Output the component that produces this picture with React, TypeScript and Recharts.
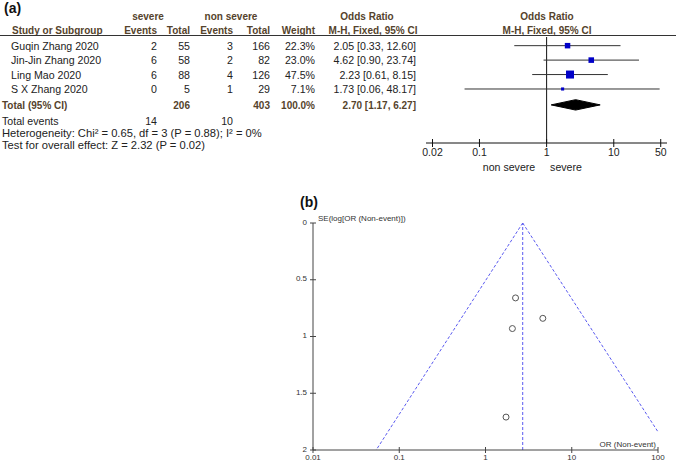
import React from "react";
import {
  ComposedChart,
  XAxis,
  YAxis,
  Scatter,
  Area,
  ReferenceLine,
} from "recharts";

// forest plot table (a)
const studies = ["Guqin Zhang 2020", "Jin-Jin Zhang 2020", "Ling Mao 2020", "S X Zhang 2020"];
const severeEvents = [2, 6, 6, 0];
const severeTotal = [55, 58, 88, 5];
const nonSevereEvents = [3, 2, 4, 1];
const nonSevereTotal = [166, 82, 126, 29];
const weights = [22.3, 23.0, 47.5, 7.1];
const oddsRatios = [2.05, 4.62, 2.23, 1.73];
const ciLow = [0.33, 0.9, 0.61, 0.06];
const ciHigh = [12.6, 23.74, 8.15, 48.17];

// pooled: OR, lower, upper
const pooledEstimate = [2.7, 1.17, 6.27];
const pooledTotals = [206, 403];
const totalEvents = [14, 10];

const forestTicks = [0.02, 0.1, 1, 10, 50];

// funnel plot (b)
const standardErrors = [0.93, 0.84, 0.66, 1.71];
const funnelXTicks = [0.01, 0.1, 1, 10, 100];
const funnelYTicks = [0, 0.5, 1, 1.5, 2];
const funnelLeftEdge = [2.7, 0.054];
const funnelLeftSe = [0, 2];
const funnelRightEdge = [2.7, 100];
const funnelRightSe = [0, 1.84];

const FONT = "'Liberation Sans', Arial, sans-serif";
const HEAD = "#55432c";
const BODY = "#222";

// row index -> pixel centre, same mapping as the forest chart's y axis
const Y_DOMAIN: [number, number] = [0.4, 7.74];
const PLOT_TOP = 37;
const PLOT_BOTTOM = 143;
const rowY = (r: number) =>
  PLOT_TOP + ((r - Y_DOMAIN[0]) / (Y_DOMAIN[1] - Y_DOMAIN[0])) * (PLOT_BOTTOM - PLOT_TOP);
const TOTAL_ROW = 5.1;

const fmt = (v: number) => v.toFixed(2);

const ForestTick = (props: any) => {
  const { x, y, payload } = props;
  return (
    <g>
      <line x1={x} x2={x} y1={y - 4} y2={y + 4} stroke="#111" />
      <text x={x} y={y + 13} textAnchor="middle" fontSize={10.5} fill={BODY} fontFamily={FONT}>
        {payload.value}
      </text>
    </g>
  );
};

const FunnelXTick = (props: any) => {
  const { x, y, payload } = props;
  return (
    <g>
      <line x1={x} x2={x} y1={y - 3} y2={y + 3} stroke="#444" />
      <text x={x} y={y + 10} textAnchor="middle" fontSize={8} fill="#333" fontFamily={FONT}>
        {payload.value}
      </text>
    </g>
  );
};

const FunnelYTick = (props: any) => {
  const { x, y, payload } = props;
  return (
    <g>
      <line x1={x - 3} x2={x + 3} y1={y} y2={y} stroke="#444" />
      <text x={x - 6} y={y + 1.5} textAnchor="end" fontSize={8} fill="#333" fontFamily={FONT}>
        {payload.value}
      </text>
    </g>
  );
};

const WeightSquare = (props: any) => {
  const { cx, cy, payload } = props;
  const s = 8 * Math.sqrt(payload.w / 47.5);
  return <rect x={cx - s / 2} y={cy - s / 2} width={s} height={s} fill="#0000c8" />;
};

const OpenCircle = (props: any) => {
  const { cx, cy } = props;
  return <circle cx={cx} cy={cy} r={3} fill="none" stroke="#555" strokeWidth={1} />;
};

const TableText = () => {
  const t = (x: number, y: number, s: string | number, opts: any = {}) => (
    <text
      x={x}
      y={y + 4}
      fontSize={opts.size ?? 10.6}
      fontWeight={opts.bold ? "bold" : "normal"}
      fill={opts.color ?? BODY}
      textAnchor={opts.anchor ?? "end"}
      fontFamily={FONT}
    >
      {s}
    </text>
  );
  const h = (x: number, y: number, s: string, anchor = "end") =>
    t(x, y, s, { bold: true, color: HEAD, size: 10, anchor });

  return (
    <svg width={676} height={461} style={{ position: "absolute", left: 0, top: 0 }}>
      <text x={4} y={13} fontSize={14} fontWeight="bold" fontFamily={FONT} fill="#111">
        (a)
      </text>
      <text x={300} y={207} fontSize={14} fontWeight="bold" fontFamily={FONT} fill="#111">
        (b)
      </text>

      {h(148, 16, "severe", "middle")}
      {h(231, 16, "non severe", "middle")}
      {h(367, 16, "Odds Ratio", "middle")}
      {h(547, 16, "Odds Ratio", "middle")}

      {h(12, 30, "Study or Subgroup", "start")}
      {h(157, 30, "Events")}
      {h(190, 30, "Total")}
      {h(233, 30, "Events")}
      {h(270, 30, "Total")}
      {h(315, 30, "Weight")}
      {h(373, 30, "M-H, Fixed, 95% CI", "middle")}
      {h(547, 30, "M-H, Fixed, 95% CI", "middle")}
      <line x1={0} x2={676} y1={35.5} y2={35.5} stroke="#333" />

      {studies.map((name, i) => {
        const y = rowY(i + 1);
        return (
          <g key={name}>
            {t(11, y, name, { anchor: "start" })}
            {t(157, y, severeEvents[i])}
            {t(190, y, severeTotal[i])}
            {t(233, y, nonSevereEvents[i])}
            {t(270, y, nonSevereTotal[i])}
            {t(315, y, `${weights[i].toFixed(1)}%`)}
            {t(416, y, `${fmt(oddsRatios[i])} [${fmt(ciLow[i])}, ${fmt(ciHigh[i])}]`)}
          </g>
        );
      })}

      {h(2, rowY(TOTAL_ROW), "Total (95% CI)", "start")}
      {h(190, rowY(TOTAL_ROW), String(pooledTotals[0]))}
      {h(270, rowY(TOTAL_ROW), String(pooledTotals[1]))}
      {h(315, rowY(TOTAL_ROW), "100.0%")}
      {h(416, rowY(TOTAL_ROW), `${fmt(pooledEstimate[0])} [${fmt(pooledEstimate[1])}, ${fmt(pooledEstimate[2])}]`)}

      {t(2, 121, "Total events", { anchor: "start" })}
      {t(157, 121, totalEvents[0])}
      {t(233, 121, totalEvents[1])}
      {t(2, 133, "Heterogeneity: Chi² = 0.65, df = 3 (P = 0.88); I² = 0%", { anchor: "start", size: 11.2 })}
      {t(2, 145, "Test for overall effect: Z = 2.32 (P = 0.02)", { anchor: "start", size: 11.2 })}

      {t(509, 167, "non severe", { anchor: "middle" })}
      {t(566, 167, "severe", { anchor: "middle" })}

      <text x={318} y={221} fontSize={8} fill="#333" fontFamily={FONT}>
        SE(log[OR (Non-event)])
      </text>
      <text x={656} y={447} fontSize={8} fill="#333" fontFamily={FONT} textAnchor="end">
        OR (Non-event)
      </text>
    </svg>
  );
};

const ForestChart = () => {
  const squares = oddsRatios.map((v, i) => ({ x: v, y: i + 1, w: weights[i] }));
  const diamond = [
    { x: pooledEstimate[1], band: [TOTAL_ROW, TOTAL_ROW] },
    { x: pooledEstimate[0], band: [TOTAL_ROW - 0.36, TOTAL_ROW + 0.36] },
    { x: pooledEstimate[2], band: [TOTAL_ROW, TOTAL_ROW] },
  ];
  return (
    <div style={{ position: "absolute", left: 0, top: 0 }}>
      <ComposedChart width={676} height={180} margin={{ top: PLOT_TOP, right: 9, bottom: 0, left: 426 }}>
        <XAxis
          dataKey="x"
          type="number"
          scale="log"
          domain={[0.016, 62]}
          allowDataOverflow
          ticks={forestTicks}
          height={180 - PLOT_BOTTOM}
          tickSize={0}
          tickMargin={0}
          tick={<ForestTick />}
          stroke="#111"
          interval={0}
        />
        <YAxis dataKey="y" type="number" domain={Y_DOMAIN} reversed hide allowDataOverflow />
        <ReferenceLine x={1} stroke="#111" ifOverflow="visible" />
        {studies.map((s, i) => (
          <ReferenceLine
            key={s}
            segment={[
              { x: ciLow[i], y: i + 1 },
              { x: ciHigh[i], y: i + 1 },
            ]}
            stroke="#333"
            ifOverflow="visible"
          />
        ))}
        <Area
          data={diamond}
          dataKey="band"
          type="linear"
          fill="#000"
          fillOpacity={1}
          stroke="#000"
          isAnimationActive={false}
          dot={false}
          activeDot={false}
        />
        <Scatter data={squares} shape={<WeightSquare />} isAnimationActive={false} />
      </ComposedChart>
    </div>
  );
};

const FunnelChart = () => {
  const points = oddsRatios.map((v, i) => ({ x: v, y: standardErrors[i] }));
  return (
    <div style={{ position: "absolute", left: 0, top: 180 }}>
      <ComposedChart width={676} height={281} margin={{ top: 43, right: 18, bottom: 0, left: 283 }}>
        <XAxis
          dataKey="x"
          type="number"
          scale="log"
          domain={[0.01, 100]}
          allowDataOverflow
          ticks={funnelXTicks}
          height={11}
          tickSize={0}
          tickMargin={0}
          tick={<FunnelXTick />}
          stroke="#444"
          interval={0}
        />
        <YAxis
          dataKey="y"
          type="number"
          domain={[0, 2]}
          reversed
          allowDataOverflow
          ticks={funnelYTicks}
          width={30}
          tickSize={0}
          tickMargin={0}
          tick={<FunnelYTick />}
          stroke="#444"
          interval={0}
        />
        <ReferenceLine x={pooledEstimate[0]} stroke="#5a5af0" strokeDasharray="3 2" ifOverflow="visible" />
        <ReferenceLine
          segment={[
            { x: funnelLeftEdge[0], y: funnelLeftSe[0] },
            { x: funnelLeftEdge[1], y: funnelLeftSe[1] },
          ]}
          stroke="#5a5af0"
          strokeDasharray="3 2"
          ifOverflow="visible"
        />
        <ReferenceLine
          segment={[
            { x: funnelRightEdge[0], y: funnelRightSe[0] },
            { x: funnelRightEdge[1], y: funnelRightSe[1] },
          ]}
          stroke="#5a5af0"
          strokeDasharray="3 2"
          ifOverflow="visible"
        />
        <Scatter data={points} shape={<OpenCircle />} isAnimationActive={false} />
      </ComposedChart>
    </div>
  );
};

export default function App() {
  return (
    <div
      style={{
        position: "absolute",
        left: 0,
        top: 0,
        width: 676,
        height: 461,
        background: "#fff",
        fontFamily: FONT,
        overflow: "hidden",
      }}
    >
      <TableText />
      <ForestChart />
      <FunnelChart />
    </div>
  );
}
